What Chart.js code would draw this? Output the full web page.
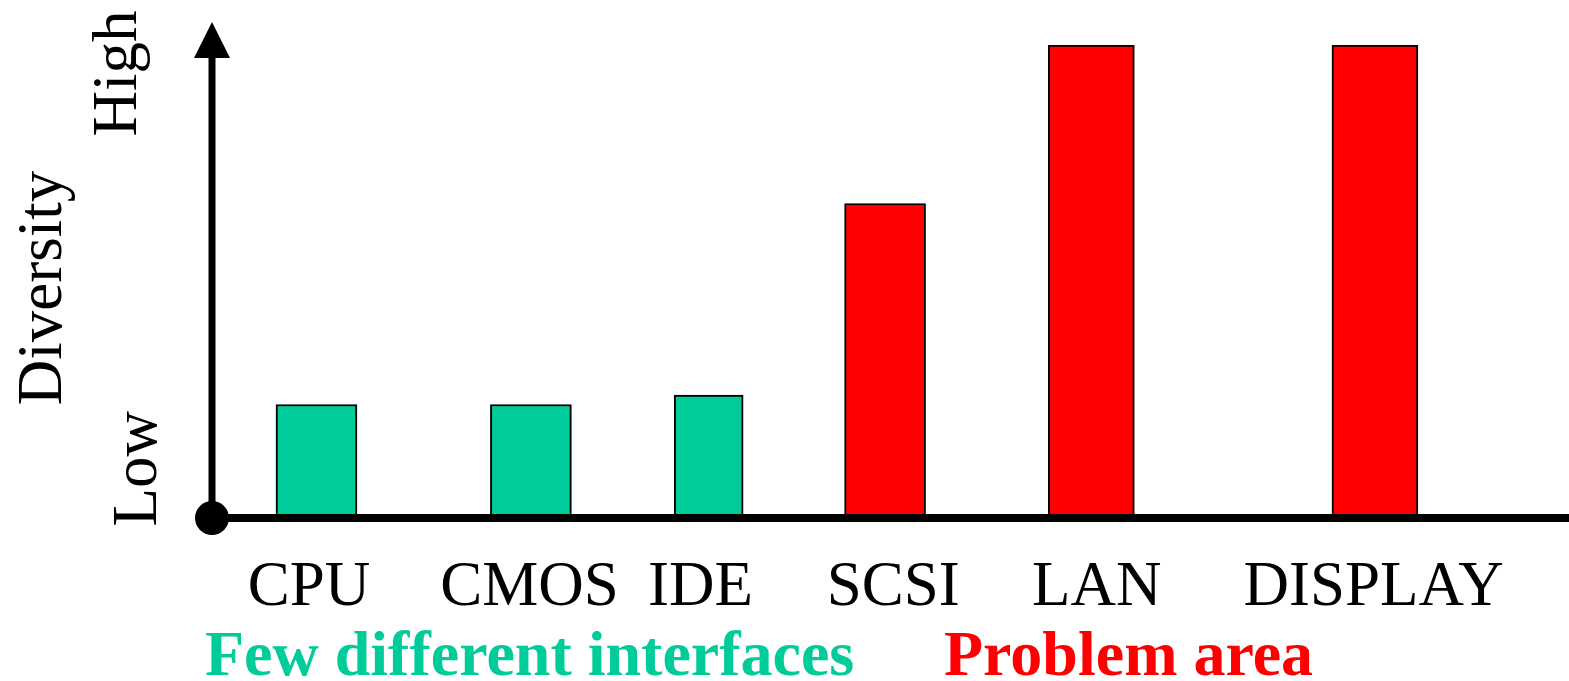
<!DOCTYPE html>
<html>
<head>
<meta charset="utf-8">
<script src="https://cdn.jsdelivr.net/npm/chart.js@4/dist/chart.umd.min.js"></script>
<style>
	body { margin: 0; background: #fff; }
</style>
</head>
<body>
<canvas id="myChart" width="1569" height="681"></canvas>
<script>
// data (diversity on a 0-100 scale, Low..High)
var categories = ["CPU", "CMOS", "IDE", "SCSI", "LAN", "DISPLAY"];
var diversity = [24, 24, 26, 66.5, 100, 100];
var barPositions = [7.7, 23.5, 36.6, 49.6, 64.8, 85.7];
var labelPositions = [7.15, 23.4, 36.0, 50.2, 65.2, 85.6];
var groupOf = [0, 0, 0, 1, 1, 1];
var groups = ["Few different interfaces", "Problem area"];
var yTicks = ["Low", "High"];
var yTickValues = [10.4, 94];
var yTitle = "Diversity";

// styles
var groupColors = ["#00cc99", "#ff0000"];
var barWidths = [81, 81, 69, 81, 86, 86];
var serif = "'Liberation Serif', 'Times New Roman', serif";

var datasets = categories.map(function (c, i) {
	return {
		label: c,
		data: [{ x: barPositions[i], y: diversity[i] }],
		backgroundColor: groupColors[groupOf[i]],
		borderColor: "#000",
		borderWidth: 2,
		barThickness: barWidths[i],
		grouped: false
	};
});

var axesPlugin = {
	id: "axesPlugin",
	afterDatasetsDraw: function (chart) {
		var ctx = chart.ctx;
		var xs = chart.scales.x, ys = chart.scales.y;
		var x0 = xs.getPixelForValue(0);
		var y0 = ys.getPixelForValue(0);
		ctx.save();
		ctx.fillStyle = "#000";
		ctx.strokeStyle = "#000";

		// horizontal axis
		ctx.lineWidth = 8;
		ctx.beginPath();
		ctx.moveTo(x0, y0);
		ctx.lineTo(chart.width, y0);
		ctx.stroke();

		// vertical axis with arrow
		ctx.lineWidth = 7;
		ctx.beginPath();
		ctx.moveTo(x0, y0);
		ctx.lineTo(x0, 56);
		ctx.stroke();
		ctx.beginPath();
		ctx.moveTo(x0, 22);
		ctx.lineTo(x0 - 18, 58);
		ctx.lineTo(x0 + 18, 58);
		ctx.closePath();
		ctx.fill();

		// origin dot
		ctx.beginPath();
		ctx.arc(x0, y0, 17, 0, Math.PI * 2);
		ctx.fill();

		// category labels
		ctx.font = "63px " + serif;
		ctx.textAlign = "center";
		ctx.textBaseline = "alphabetic";
		categories.forEach(function (c, i) {
			ctx.fillText(c, xs.getPixelForValue(labelPositions[i]), 605);
		});

		// rotated y texts
		function rot(text, x, y) {
			ctx.save();
			ctx.translate(x, y);
			ctx.rotate(-Math.PI / 2);
			ctx.fillText(text, 0, 0);
			ctx.restore();
		}
		rot(yTicks[0], 156, ys.getPixelForValue(yTickValues[0]));
		rot(yTicks[1], 136, ys.getPixelForValue(yTickValues[1]));
		rot(yTitle, 61, 288);

		// group captions
		ctx.font = "bold 64px " + serif;
		ctx.textAlign = "left";
		ctx.fillStyle = groupColors[0];
		ctx.fillText(groups[0], 205, 675);
		ctx.fillStyle = groupColors[1];
		ctx.fillText(groups[1], 944, 675);
		ctx.restore();
	}
};

var canvasElement = document.getElementById("myChart");
var config = {
	type: "bar",
	data: { datasets: datasets },
	options: {
		responsive: false,
		animation: false,
		layout: { padding: { left: 212, right: 0, top: 45, bottom: 163 } },
		plugins: { legend: { display: false }, tooltip: { enabled: false } },
		scales: {
			x: { type: "linear", min: 0, max: 100, offset: false, display: false },
			y: { min: 0, max: 100, display: false }
		}
	},
	plugins: [axesPlugin]
};
var myChart = new Chart(canvasElement, config);
</script>
</body>
</html>
